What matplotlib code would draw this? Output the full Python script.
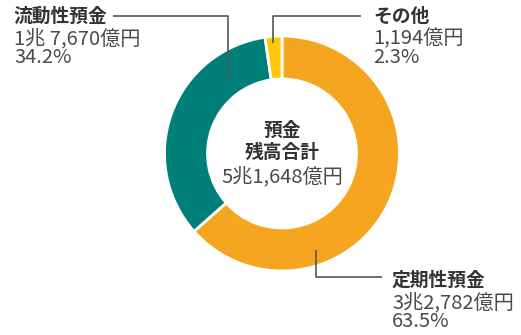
import matplotlib.pyplot as plt

plt.rcParams['font.family'] = ['Noto Sans CJK JP', 'DejaVu Sans']

# 預金の内訳（億円）
labels = ['定期性預金', '流動性預金', 'その他']
amounts = [32782, 17670, 1194]
amount_text = ['3兆2,782億円', '1兆 7,670億円', '1,194億円']
shares = ['63.5%', '34.2%', '2.3%']
colors = ['#F6A520', '#007F78', '#FFC90A']
total_text = '5兆1,648億円'

W, H = 521, 335
fig = plt.figure(figsize=(W / 100, H / 100), dpi=100)
ax = fig.add_axes([0, 0, 1, 1])

cx, cy, r = 282, H - 153.5, 117.5
ax.pie(amounts, colors=colors, startangle=90, counterclock=False,
       center=(cx, cy), radius=r,
       wedgeprops=dict(width=43, edgecolor='white', linewidth=2))

ax.set_xlim(0, W)
ax.set_ylim(0, H)
ax.set_aspect('equal')
ax.axis('off')

dark = '#333333'
grey = '#4a4a4a'
bold_size = 13.5
num_size = 14.5
line_kw = dict(color='#555555', lw=1.2, solid_capstyle='butt')

def y(p):
    return H - p

# 中央のテキスト
ax.text(cx, y(141.5), '預金\n残高合計', ha='center', va='center',
        fontsize=bold_size, fontweight='bold', color=dark, linespacing=1.15)
ax.text(cx, y(177), total_text, ha='center', va='center', fontsize=num_size,
        color=grey)

# ラベル（見出し＋金額・構成比）
label_pos = {0: (392, 280, 312), 1: (14, 16, 48), 2: (373, 16, 48)}
for i, (lx, y1, y2) in label_pos.items():
    ax.text(lx, y(y1), labels[i], ha='left', va='center', fontsize=bold_size,
            fontweight='bold', color=dark)
    ax.text(lx, y(y2), amount_text[i] + '\n' + shares[i], ha='left',
            va='center', fontsize=num_size, color=grey, linespacing=0.9)

# 引き出し線
ax.plot([113, 228, 228], [y(16), y(16), y(78)], **line_kw)
ax.plot([361, 273, 273], [y(16), y(16), y(43)], **line_kw)
ax.plot([316, 316, 382], [y(250), y(277), y(277)], **line_kw)

fig.savefig('out.png', dpi=100)
